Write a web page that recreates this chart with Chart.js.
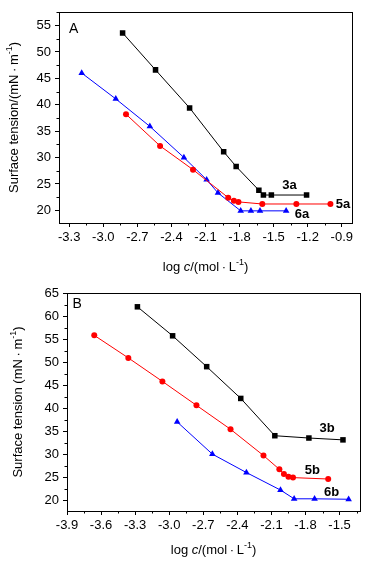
<!DOCTYPE html>
<html>
<head>
<meta charset="utf-8">
<script src="https://cdn.jsdelivr.net/npm/chart.js@4.4.1/dist/chart.umd.min.js"></script>
<style>
  html, body { margin: 0; padding: 0; background: #fff; }
  #wrap { position: relative; width: 370px; height: 562px; }
  canvas { position: absolute; left: 0; }
  #chartA { top: 0; }
  #chartB { top: 280px; }
</style>
</head>
<body>
<div id="wrap">
  <canvas id="chartA" width="370" height="280"></canvas>
  <canvas id="chartB" width="370" height="282"></canvas>
</div>
<script>
// panel A: log c vs surface tension
const x3a = [-2.83, -2.54, -2.24, -1.94, -1.83, -1.63, -1.59, -1.52, -1.21];
const y3a = [53.6, 46.6, 39.4, 31.1, 28.3, 23.8, 22.9, 22.9, 22.9];
const x5a = [-2.80, -2.50, -2.21, -1.90, -1.85, -1.81, -1.60, -1.30, -1.00];
const y5a = [38.2, 32.2, 27.7, 22.4, 21.8, 21.6, 21.2, 21.2, 21.2];
const x6a = [-3.19, -2.89, -2.59, -2.29, -2.09, -1.99, -1.79, -1.70, -1.62, -1.39];
const y6a = [46.0, 41.1, 35.9, 30.0, 25.8, 23.3, 19.9, 19.9, 19.9, 19.9];

// panel B
const x3b = [-3.28, -2.97, -2.67, -2.37, -2.07, -1.77, -1.47];
const y3b = [62.0, 55.7, 49.0, 42.1, 34.0, 33.5, 33.1];
const x5b = [-3.66, -3.36, -3.06, -2.76, -2.46, -2.17, -2.03, -1.99, -1.95, -1.91, -1.60];
const y5b = [55.8, 50.9, 45.8, 40.6, 35.4, 29.7, 26.7, 25.7, 25.1, 24.9, 24.6];
const x6b = [-2.93, -2.62, -2.32, -2.02, -1.90, -1.72, -1.42];
const y6b = [37.0, 30.0, 26.0, 22.2, 20.3, 20.3, 20.2];

// tick labels
const xTicksA = [-3.3, -3.0, -2.7, -2.4, -2.1, -1.8, -1.5, -1.2, -0.9];
const yTicksA = [20, 25, 30, 35, 40, 45, 50, 55];
const xTicksB = [-3.9, -3.6, -3.3, -3.0, -2.7, -2.4, -2.1, -1.8, -1.5];
const yTicksB = [20, 25, 30, 35, 40, 45, 50, 55, 60, 65];

const FONT = 'Arial, "Liberation Sans", sans-serif';
Chart.defaults.font.family = FONT;
Chart.defaults.font.size = 13;
Chart.defaults.color = '#000';

function pts(xs, ys) {
  return xs.map((x, i) => ({ x: x, y: ys[i] }));
}

// midpoints between major ticks (and one step beyond), kept inside the axis range
function minors(major, min, max) {
  const step = major[1] - major[0];
  const out = [];
  for (let i = -1; i < major.length; i++) {
    const v = major[0] + step * (i + 0.5);
    if (v >= min - 1e-6 && v <= max + 1e-6) out.push(v);
  }
  return out;
}

function fontFor(p, size) {
  return (p.b ? 'bold ' : '') + (p.i ? 'italic ' : '') + (p.sup ? Math.round(size * 0.68) : size) + 'px ' + FONT;
}

// draws a row of text pieces (italic / superscript) centred on cx, cy
function drawRich(ctx, parts, cx, cy, size) {
  let w = 0;
  parts.forEach(p => { ctx.font = fontFor(p, size); p.w = ctx.measureText(p.t).width; w += p.w; });
  let x = cx - w / 2;
  ctx.textAlign = 'left';
  ctx.textBaseline = 'middle';
  parts.forEach(p => {
    ctx.font = fontFor(p, size);
    ctx.fillText(p.t, x, p.sup ? cy - size * 0.38 : cy);
    x += p.w;
  });
}

// frame, minor ticks, axis titles and series labels
const decor = {
  id: 'decor',
  afterDraw(chart, args, o) {
    const ctx = chart.ctx, a = chart.chartArea;
    const xs = chart.scales.x, ys = chart.scales.y;
    ctx.save();
    ctx.strokeStyle = '#000';
    ctx.lineWidth = 1;
    ctx.strokeRect(Math.round(a.left) + 0.5, Math.round(a.top) + 0.5,
      Math.round(a.right - a.left), Math.round(a.bottom - a.top));

    ctx.beginPath();
    minors(o.xTicks, xs.min, xs.max).forEach(v => {
      const px = Math.round(xs.getPixelForValue(v)) + 0.5;
      ctx.moveTo(px, a.bottom);
      ctx.lineTo(px, a.bottom + 2.5);
    });
    minors(o.yTicks, ys.min, ys.max).forEach(v => {
      const py = Math.round(ys.getPixelForValue(v)) + 0.5;
      ctx.moveTo(a.left, py);
      ctx.lineTo(a.left - 2.5, py);
    });
    ctx.stroke();

    ctx.fillStyle = '#000';
    drawRich(ctx, o.xTitle, (a.left + a.right) / 2, a.bottom + o.xTitleGap, 13);
    ctx.save();
    ctx.translate(o.yTitleX, (a.top + a.bottom) / 2);
    ctx.rotate(-Math.PI / 2);
    drawRich(ctx, o.yTitle, 0, 0, 13);
    ctx.restore();

    ctx.textAlign = 'center';
    ctx.textBaseline = 'middle';
    ctx.font = '14px ' + FONT;
    ctx.fillText(o.letter.text, xs.getPixelForValue(o.letter.x), ys.getPixelForValue(o.letter.y));
    ctx.font = 'bold 13px ' + FONT;
    o.labels.forEach(l => {
      ctx.fillText(l.text, xs.getPixelForValue(l.x), ys.getPixelForValue(l.y));
    });
    ctx.restore();
  }
};

function series(label, data, color, shape, r) {
  return {
    label: label,
    data: data,
    showLine: true,
    borderColor: color,
    backgroundColor: color,
    borderWidth: 1,
    pointStyle: shape,
    pointRadius: r,
    pointHoverRadius: r,
    pointBorderWidth: 0,
    pointBackgroundColor: color
  };
}

function makeChart(id, datasets, cfg) {
  return new Chart(document.getElementById(id), {
    type: 'scatter',
    data: { datasets: datasets },
    options: {
      responsive: false,
      animation: false,
      layout: { padding: cfg.padding },
      plugins: {
        legend: { display: false },
        tooltip: { enabled: false },
        decor: cfg.decor
      },
      scales: {
        x: {
          type: 'linear',
          min: cfg.xMin,
          max: cfg.xMax,
          afterBuildTicks: s => { s.ticks = cfg.decor.xTicks.map(v => ({ value: v })); },
          afterFit: s => { s.height = cfg.xHeight; },
          ticks: { padding: 3, maxRotation: 0, autoSkip: false, callback: v => v.toFixed(1) },
          grid: { drawOnChartArea: false, color: '#000', tickLength: 4 },
          border: { display: false }
        },
        y: {
          type: 'linear',
          min: cfg.yMin,
          max: cfg.yMax,
          afterBuildTicks: s => { s.ticks = cfg.decor.yTicks.map(v => ({ value: v })); },
          afterFit: s => { s.width = cfg.yWidth; },
          ticks: { padding: 4, autoSkip: false, callback: v => String(v) },
          grid: { drawOnChartArea: false, color: '#000', tickLength: 4 },
          border: { display: false }
        }
      }
    },
    plugins: [decor]
  });
}

makeChart('chartA', [
  series('3a', pts(x3a, y3a), '#000000', 'rect', 3.9),
  series('5a', pts(x5a, y5a), '#ff0000', 'circle', 3),
  series('6a', pts(x6a, y6a), '#0000ff', 'triangle', 3.8)
], {
  padding: { top: 5, right: 18, left: 0, bottom: 0 },
  xMin: -3.39, xMax: -0.81, yMin: 17.6, yMax: 57.6,
  xHeight: 57, yWidth: 59,
  decor: {
    xTicks: xTicksA,
    yTicks: yTicksA,
    xTitleGap: 44,
    yTitleX: 14,
    xTitle: [{ t: 'log ' }, { t: 'c', i: true }, { t: '/(mol\u2009·\u2009L' }, { t: '-1', sup: true }, { t: ')' }],
    yTitle: [{ t: 'Surface tension/(mN\u2009·\u2009m' }, { t: '-1', sup: true }, { t: ')' }],
    letter: { text: 'A', x: -3.26, y: 54.4 },
    labels: [
      { text: '3a', x: -1.36, y: 24.7 },
      { text: '5a', x: -0.89, y: 21.2 },
      { text: '6a', x: -1.25, y: 19.2 }
    ]
  }
});

makeChart('chartB', [
  series('3b', pts(x3b, y3b), '#000000', 'rect', 3.9),
  series('5b', pts(x5b, y5b), '#ff0000', 'circle', 3),
  series('6b', pts(x6b, y6b), '#0000ff', 'triangle', 3.8)
], {
  padding: { top: 13, right: 10, left: 0, bottom: 0 },
  xMin: -3.9, xMax: -1.32, yMin: 17.65, yMax: 65,
  xHeight: 51, yWidth: 67,
  decor: {
    xTicks: xTicksB,
    yTicks: yTicksB,
    xTitleGap: 39,
    yTitleX: 18,
    xTitle: [{ t: 'log ' }, { t: 'c', i: true }, { t: '/(mol\u2009·\u2009L' }, { t: '-1', sup: true }, { t: ')' }],
    yTitle: [{ t: 'Surface tension (mN\u2009·\u2009m' }, { t: '-1', sup: true }, { t: ')' }],
    letter: { text: 'B', x: -3.81, y: 62.5 },
    labels: [
      { text: '3b', x: -1.61, y: 35.5 },
      { text: '5b', x: -1.74, y: 26.5 },
      { text: '6b', x: -1.57, y: 21.6 }
    ]
  }
});
</script>
</body>
</html>
